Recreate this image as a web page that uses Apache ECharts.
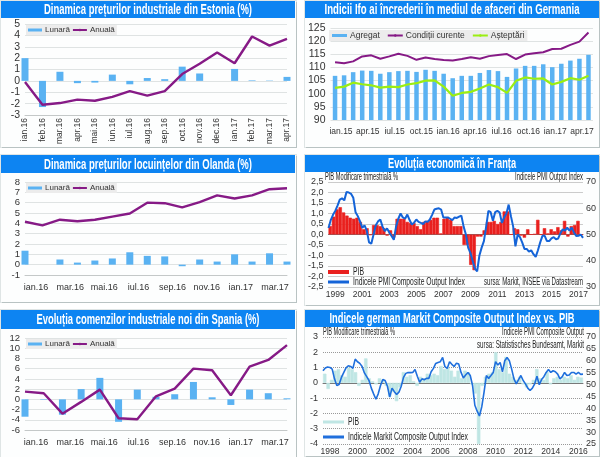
<!DOCTYPE html>
<html>
<head>
<meta charset="utf-8">
<script src="https://cdn.jsdelivr.net/npm/echarts@6/dist/echarts.min.js"></script>
<style>
html,body{margin:0;padding:0;background:#fff;}
.box{position:absolute;box-sizing:border-box;background:#fdfefe;box-shadow:1px 1px 0 #b9c3c3,0 0 0 1px #dfe5e5;}
</style>
</head>
<body>
<div class="box" id="c1" style="left:1px;top:1px;width:295px;height:146px;"></div>
<div class="box" id="c2" style="left:305px;top:1px;width:294px;height:146px;"></div>
<div class="box" id="c3" style="left:1px;top:155px;width:295px;height:147px;"></div>
<div class="box" id="c4" style="left:305px;top:155px;width:294px;height:150px;"></div>
<div class="box" id="c5" style="left:1px;top:310px;width:295px;height:147px;"></div>
<div class="box" id="c6" style="left:305px;top:310px;width:294px;height:146px;"></div>
<script>
/*Estonia*/
var estLabels=['ian.16','feb.16','mar.16','apr.16','mai.16','iun.16','iul.16','aug.16','sep.16','oct.16','nov.16','dec.16','ian.17','feb.17','mar.17','apr.17'];
var estLunara=[2,-2.3,0.8,-0.2,-0.15,0.55,-0.3,0.25,0.15,1.25,0.65,0,1.05,0.05,0.03,0.35];
var estAnuala=[-0.1,-2.1,-1.95,-1.65,-1.75,-1.4,-0.9,-1.3,-0.9,0.6,1.5,2.5,1.55,3.9,3.1,3.7];

/*Germania Ifo*/
var ifoMonths=['ian.15','feb.15','mar.15','apr.15','mai.15','iun.15','iul.15','aug.15','sep.15','oct.15','nov.15','dec.15','ian.16','feb.16','mar.16','apr.16','mai.16','iun.16','iul.16','aug.16','sep.16','oct.16','nov.16','dec.16','ian.17','feb.17','mar.17','apr.17','mai.17'];
var ifoLabels=['ian.15','apr.15','iul.15','oct.15','ian.16','apr.16','iul.16','oct.16','ian.17','apr.17'];
var ifoAgregat=[106.8,107,108.2,108.8,108.7,107.6,108.2,108.6,108.7,108.3,109.1,108.7,107.6,105.9,106.8,106.8,107.9,109,108.6,106.4,109.6,110.6,110.6,111.2,110.1,111.4,112.6,113.3,114.8];
var ifoConditii=[112,111.6,112.3,114.2,114.6,113.3,114.2,115.2,114.4,112.9,113.8,113.2,112.8,112.6,113.2,113.9,113.3,114.3,114.7,115.1,113.2,114.9,115.4,115.8,117,117.1,118.6,119.8,123.3];
var ifoAsteptari=[102.2,102.7,104.2,103.6,103.2,102.3,102.7,102.5,103.5,104,105,105.1,102.7,99.2,100.3,100.7,102,103.5,102.5,100.3,104.9,106.2,105.7,105.8,103.5,104.5,105.9,105.3,106.8];

/*Olanda*/
var olaMonths=estLabels;
var olaLabels=['ian.16','mar.16','mai.16','iul.16','sep.16','nov.16','ian.17','mar.17'];
var olaLunara=[1.35,0,0.5,0.2,0.4,0.6,1.2,0.85,0.8,-0.15,0.5,0.3,1,0.3,1.1,0.3];
var olaAnuala=[4.15,3.8,4.35,4.2,4.35,4.65,4.95,6,5.95,5.55,6.05,6.7,6.4,6.7,7.3,7.4];

/*Spania*/
var spaMonths=estLabels.slice(0,15);
var spaLunara=[-3.4,-0.1,-3,2,4.2,-4.4,1.9,0.5,1,3.4,0.4,-1.1,1.9,1.2,0.2];
var spaAnuala=[1.5,1.2,-2.8,-0.5,1.9,-3.7,-3.9,0.6,2.1,6,5.7,0.8,6.4,7.7,10.6];

/*Franta: PIB trimestrial, PMI din doua in doua luni, din iulie 1998*/
var fraPib=[0.4,0.85,1.2,1.3,1.05,0.9,0.8,0.75,0.8,0.6,0.25,0.3,-0.02,0.45,0.45,0.4,0.3,-0.05,0.2,-0.15,0.75,0.75,0.75,0.6,0.55,0.55,0.4,0.25,0.6,0.65,0.7,0.8,0.8,0.05,0.75,0.8,0.7,0.4,0.4,0.4,-0.5,-0.5,-1.45,-1.7,-0.1,-0.1,0.2,0.6,0.6,0.65,0.5,0.6,1.1,1.1,0,0.3,0.25,-0.05,-0.15,0.25,0,0.02,0.7,0,0.3,0.05,0.25,0.15,0.35,0.2,0.65,-0.1,0.4,0.45,0.65,0];
var fraPmi=[52.5,55.5,57.5,59,61,63.3,63.8,63,66.2,66,65.5,64,58.5,57,55,52.5,53.5,51.5,47,46.5,50,53.5,55,55.7,53,51.3,52.3,50.8,49.4,48,53,56,58,56.5,56,57.6,55.5,53.8,54.5,55.7,54.8,54.4,54,55,54.8,55.7,57.5,59.5,59.8,60,59.5,56.5,56.5,56.5,56,55.5,56.5,56.3,56.8,57.2,53,50,45,43,40,37,36,42,45,47.5,53,59,58.5,55.2,58.5,59,58.4,54.4,56.5,58,61.4,57,53,45.5,50,49,47,44.5,44.5,43.5,44,42.5,41.5,44,47,49.5,49.5,47.5,47.5,48.5,49,48.2,48.5,50.5,52,51.5,52.6,51.5,52.6,50.8,49.4,49.5,50,48.7];

/*Germania: PIB trimestrial, PMI din doua in doua luni, din iulie 1997*/
var gerPib=[0.6,-0.4,0.2,0.8,0.9,0.5,0.4,1,0.9,0.7,-0.2,0.2,1.6,0.3,0.1,-0.1,0.3,0.2,-0.2,-0.9,-0.6,-1.2,-0.3,0.7,0.4,0.5,0.1,-0.2,0.4,0.3,0.6,0.5,0.6,0.5,1.1,0.9,1,0.8,0.4,0.8,0.3,0.8,0.7,-0.1,-0.7,-4,-0.2,0.4,0.6,0.7,2,0.9,0.7,1.7,0.6,0.4,0.2,0.4,-0.1,-0.3,-0.1,0.2,0.9,0.3,0.2,0.7,-0.1,0.3,0.4,0.2,0.4,0.3,0.5,0.2,0.4,0.35];
var gerPmi=[55.8,57,57.4,57.2,56.5,52.4,49.6,50,53,55,57,57.9,57.6,56.8,60.7,59.6,58.9,57.6,54.9,53.3,51.7,48.5,46.1,43.8,46.1,49.6,52.1,51.7,49.3,44.7,48.5,47,45.8,46.8,49.3,53,54.7,55.1,55,55.1,56.3,53.5,51,52.4,52,52.6,52.6,55.4,56.8,58.9,59.3,59.6,61.4,57.5,56.8,59.6,58.5,57.6,59,58.6,55.1,52.8,54,55.1,53.8,49.6,41.3,38.8,36.8,40.6,46.8,53.8,52.6,53.8,55.1,59.6,58.2,59.3,55.4,60,61.4,60,56.5,52.4,50.3,52.1,53.8,51.7,50.3,48.5,47.5,48.5,50.3,53.5,49.9,52.1,53.3,55.1,56.3,55.1,55.8,55.4,54.4,52.4,53.3,55.1,53.8,54,55.1,55.1,54.4,55.1,54.3,54.4];

var fontA='"Liberation Sans",sans-serif';
var textCol='#333';
var barBlue='#5ab2f2';
var purple='#861a86';
var measure=document.createElement('canvas').getContext('2d');

//luni consecutive, pentru axa de timp
function months(startYear,startMonth,step,n){
    var arr=[];
    for(var i=0;i<n;i++){
        var m=startMonth-1+i*step;
        arr.push((startYear+Math.floor(m/12))+'-'+(m%12+1));
    }
    return arr;
}

//text ingustat pe orizontala pana la latimea w (nu avem font narrow)
function squeezed(text,x,y,align,w,font,color){
    measure.font=font;
    return {type:'text',x:x,y:y,scaleX:w/measure.measureText(text).width,z:10,
        style:{text:text,font:font,fill:color,align:align,verticalAlign:'middle'}};
}

//banda albastra cu titlul
function header(h,text,w){
    return [
        {type:'rect',shape:{x:0,y:0,width:294,height:h},z:-1,style:{fill:'#0d84f2'}},
        squeezed(text,147,h/2+0.5,'center',w,'bold 15px "Liberation Sans"','#fff')
    ];
}

//graficele cu bare lunare si linie anuala
function monthly(title,h,titleW,cats,bars,line,yMin,yMax,yStep,g,labels,labelGrid){
    var opt={
        animation:false,
        graphic:header(h,title,titleW),
        legend:{left:25,top:g.top+1,itemWidth:14,itemHeight:3,itemGap:2,padding:[1,2],backgroundColor:'#ececec',
            textStyle:{color:textCol,fontFamily:fontA,fontSize:8,padding:[0,0,0,-2]},
            data:[{name:'Lunară',icon:'rect'},{name:'Anuală'}]},
        grid:[{left:g.left,top:g.top,width:g.width,height:g.height}],
        xAxis:[{type:'category',boundaryGap:false,data:cats,
            axisLine:{onZero:false,lineStyle:{color:'#c4c8c8'}},axisTick:{show:false},
            axisLabel:{show:false}}],
        yAxis:[{type:'value',min:yMin,max:yMax,interval:yStep,
            axisLine:{show:false},axisTick:{show:false},
            axisLabel:{color:textCol,fontFamily:fontA,fontSize:g.font,margin:5},
            splitLine:{lineStyle:{color:'#dfe3e3'}}}],
        series:[
            {name:'Lunară',type:'bar',data:bars,barWidth:7,itemStyle:{color:barBlue}},
            {name:'Anuală',type:'line',data:line,symbol:'none',lineStyle:{color:purple,width:2.4},itemStyle:{color:purple}}
        ]
    };
    if(labels){
        opt.grid.push({left:labelGrid[0],top:g.top,width:labelGrid[1],height:g.height});
        opt.xAxis.push({type:'category',gridIndex:1,boundaryGap:false,data:labels,
            axisLine:{show:false},axisTick:{show:false},
            axisLabel:{interval:0,color:textCol,fontFamily:fontA,fontSize:9,margin:8}});
        opt.yAxis.push({type:'value',gridIndex:1,show:false});
    }else{
        opt.xAxis[0].axisLabel={show:true,interval:0,rotate:90,color:textCol,fontFamily:fontA,fontSize:8.5,margin:3};
    }
    return opt;
}

//graficele cu PIB si PMI; legenda e desenata ca text ingustat
function pmiChart(opt){
    var ax={color:textCol,fontFamily:fontA,fontSize:9};
    var gr=header(opt.h,opt.title,opt.titleW).concat(opt.notes);
    gr.push({type:'rect',shape:{x:opt.swX,y:opt.legY[0]-opt.legH/2,width:21,height:opt.legH},style:{fill:opt.barCol}});
    gr.push({type:'rect',shape:{x:opt.swX,y:opt.legY[1]-1.5,width:21,height:3},style:{fill:opt.lineCol}});
    gr.push(squeezed('PIB',opt.swX+25,opt.legY[0],'left',11,'11.5px "Liberation Sans"','#222'));
    gr.push(squeezed(opt.pmiName,opt.swX+25,opt.legY[1],'left',opt.pmiW,'11.5px "Liberation Sans"','#222'));
    return {
        animation:false,
        graphic:gr,
        grid:{left:18,top:opt.top,width:260,height:opt.height},
        xAxis:[
            {type:'category',data:opt.quarters,axisTick:{show:false},axisLabel:{show:false},
                axisLine:{onZero:true,lineStyle:{color:'#777'}}},
            {type:'category',position:'bottom',boundaryGap:false,data:opt.months,
                axisLine:{show:false,onZero:false},axisTick:{show:false},
                axisLabel:{color:textCol,fontFamily:fontA,fontSize:8.5,margin:3,
                    interval:function(i){return i%12==3;},
                    formatter:function(v){return v.split('-')[0];}}}
        ],
        yAxis:[
            {type:'value',min:opt.lMin,max:opt.lMax,interval:opt.lStep,
                axisLine:{show:false},axisTick:{show:false},
                axisLabel:{color:ax.color,fontFamily:ax.fontFamily,fontSize:ax.fontSize,margin:5,formatter:opt.lFormat},
                splitLine:{lineStyle:{color:'#999',type:'dotted'}}},
            {type:'value',position:'right',min:opt.rMin,max:opt.rMax,interval:opt.rStep,
                axisLine:{show:false},axisTick:{show:false},
                axisLabel:{color:ax.color,fontFamily:ax.fontFamily,fontSize:ax.fontSize,margin:3},
                splitLine:{show:false}}
        ],
        series:[
            {name:'PIB',type:'bar',xAxisIndex:0,yAxisIndex:0,data:opt.pib,barWidth:'100%',
                itemStyle:{color:opt.barCol,borderColor:opt.barCol,borderWidth:0.6}},
            {name:opt.pmiName,type:'line',xAxisIndex:1,yAxisIndex:1,data:opt.pmi,symbol:'none',
                lineStyle:{color:opt.lineCol,width:opt.lineW},itemStyle:{color:opt.lineCol}}
        ]
    };
}

var noteFont='10.5px "Liberation Sans"';

var c1=echarts.init(document.getElementById('c1'));
c1.setOption(monthly('Dinamica prețurilor industriale din Estonia (%)',17,208,estLabels,estLunara,estAnuala,-3,5,1,{left:24,top:23,width:262,height:92,font:10.5}));

var c3=echarts.init(document.getElementById('c3'));
c3.setOption(monthly('Dinamica prețurilor locuințelor din Olanda (%)',18,208,olaMonths,olaLunara,olaAnuala,-1,8,1,{left:24,top:27,width:262,height:93,font:9.5},olaLabels,[35,239]));

var c5=echarts.init(document.getElementById('c5'));
c5.setOption(monthly('Evoluția comenzilor industriale noi din Spania (%)',19,223,spaMonths,spaLunara,spaAnuala,-6,12,2,{left:24,top:28,width:262,height:92,font:9.5},olaLabels,[35,239]));

/*Ifo*/
var c2=echarts.init(document.getElementById('c2'));
c2.setOption({
    animation:false,
    graphic:header(17,'Indicii Ifo ai încrederii în mediul de afaceri din Germania',255),
    legend:{left:24,top:29,itemWidth:15,itemHeight:3,itemGap:7,padding:[1,3],backgroundColor:'#ececec',
        textStyle:{color:textCol,fontFamily:fontA,fontSize:8.5,padding:[0,0,0,-2]},
        data:[{name:'Agregat',icon:'rect'},{name:'Condiții curente'},{name:'Așteptări'}]},
    grid:[{left:24,top:27,width:264,height:92},{left:36,top:27,width:241,height:92}],
    xAxis:[
        {type:'category',data:ifoMonths,axisLine:{show:false},axisTick:{show:false},axisLabel:{show:false}},
        {type:'category',gridIndex:1,boundaryGap:false,data:ifoLabels,axisLine:{show:false},axisTick:{show:false},
            axisLabel:{interval:0,color:textCol,fontFamily:fontA,fontSize:8.5,margin:7}}
    ],
    yAxis:[
        {type:'value',min:90,max:125,interval:5,axisLine:{show:false},axisTick:{show:false},
            axisLabel:{color:textCol,fontFamily:fontA,fontSize:10.5,margin:5},
            splitLine:{lineStyle:{color:'#dfe3e3'}}},
        {type:'value',gridIndex:1,show:false}
    ],
    series:[
        {name:'Agregat',type:'bar',data:ifoAgregat,barWidth:4.5,itemStyle:{color:barBlue}},
        {name:'Condiții curente',type:'line',data:ifoConditii,symbol:'none',lineStyle:{color:purple,width:2},itemStyle:{color:purple}},
        {name:'Așteptări',type:'line',data:ifoAsteptari,symbol:'none',lineStyle:{color:'#9bee12',width:2.2},itemStyle:{color:'#9bee12'}}
    ]
});

var c4=echarts.init(document.getElementById('c4'));
c4.setOption(pmiChart({
    h:17,title:'Evoluția economică în Franța',titleW:128,top:27,height:105,
    quarters:months(1998,7,3,fraPib.length),months:months(1998,7,2,fraPmi.length),
    pib:fraPib,pmi:fraPmi,pmiName:'Indicele PMI Composite Output Index',pmiW:112,
    lMin:-2.5,lMax:2.5,lStep:0.5,rMin:30,rMax:70,rStep:10,
    lFormat:function(v){return v.toFixed(1).replace('.',',');},
    barCol:'#e9201e',lineCol:'#1464d8',lineW:2,
    swX:23,legY:[117,127],legH:4,
    notes:[squeezed('PIB Modificare trimestrială %',20,22,'left',73,noteFont,'#222'),
        squeezed('Indicele PMI Output Index',278,22,'right',68,noteFont,'#222'),
        squeezed('sursa: Markit, INSEE via Datastream',278,127,'right',99,noteFont,'#222')]
}));

var c6=echarts.init(document.getElementById('c6'));
c6.setOption(pmiChart({
    h:17,title:'Indicele german Markit Composite Output Index vs. PIB',titleW:245,top:27,height:108,
    quarters:months(1997,7,3,gerPib.length),months:months(1997,7,2,gerPmi.length),
    pib:gerPib,pmi:gerPmi,pmiName:'Indicele Markit Composite Output Index',pmiW:120,
    lMin:-4,lMax:3,lStep:1,rMin:25,rMax:70,rStep:5,
    lFormat:function(v){return v;},
    barCol:'#bfe6e4',lineCol:'#1f6fdc',lineW:1.6,
    swX:18,legY:[112,127],legH:3,
    notes:[squeezed('PIB Modificare trimestrială %',18,22,'left',72,noteFont,'#222'),
        squeezed('Indicele PMI Composite Output',279,22,'right',82,noteFont,'#222'),
        squeezed('sursa: Statistisches Bundesamt, Markit',279,35,'right',107,noteFont,'#222')]
}));
</script>
</body>
</html>
